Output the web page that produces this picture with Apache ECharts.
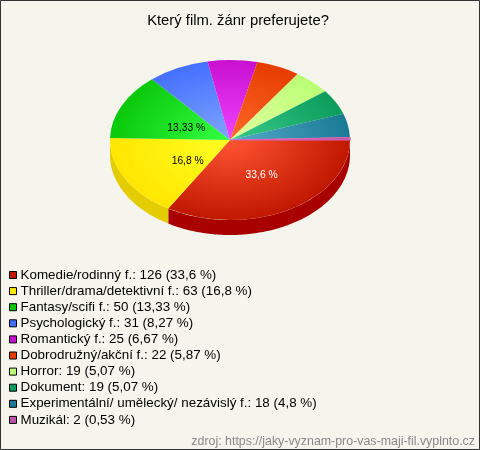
<!DOCTYPE html>
<html><head><meta charset="utf-8">
<style>html,body{margin:0;padding:0;background:#f5f5ee}#c{width:480px;height:450px}</style>
<script src="https://cdn.jsdelivr.net/npm/echarts@6/dist/echarts.min.js"></script>
</head><body><div id="c"></div>
<script>
const titleText = 'Který film. žánr preferujete?';
const sourceText = 'zdroj: https://jaky-vyznam-pro-vas-maji-fil.vyplnto.cz';
const categories = ['Komedie/rodinný f.','Thriller/drama/detektivní f.','Fantasy/scifi f.','Psychologický f.','Romantický f.','Dobrodružný/akční f.','Horror','Dokument','Experimentální/ umělecký/ nezávislý f.','Muzikál'];
const values = [126,63,50,31,25,22,19,19,18,2];
const percents = ['33,6','16,8','13,33','8,27','6,67','5,87','5,07','5,07','4,8','0,53'];
const legendColors = ['#c01800','#ffe600','#0ac80a','#4470ff','#c810d0','#e63c00','#bbff77','#0c9c5c','#1a7a94','#bb55aa'];
const innerColors = ['#ff5533','#ffff22','#33ff44','#7fa5ff','#f044ff','#ff6a2a','#e2ff9e','#38cc88','#55aacc','#ee66cc'];
const wallColors = ['#a80000','#e3cc00','#0a9a0a','#3355cc','#9a10a0','#b03000','#90cc55','#087044','#125c70','#90408a'];
const labelled = [true,true,true,false,false,false,false,false,false,false];
const labelColors = ['#ffffff','#000000','#000000'];

const total = values.reduce((a,b)=>a+b,0);
const CX=230, CY=140, RX=120, RY=80, DEPTH=15, RAD=Math.PI/180;
const starts=[]; let acc=0;
values.forEach(v=>{starts.push(acc); acc+=v/total*360;});

function renderSlice(i){
  return function(params, api){
    const a=starts[i], b=a+api.value(0)/total*360;
    const children=[];
    const wa=Math.min(a,180), wb=Math.min(b,180);
    if(wb>wa){
      const top=[],bot=[];
      for(let t=wa;;t+=1){
        const u=Math.min(t,wb);
        const x=CX+RX*Math.cos(u*RAD), y=CY+RY*Math.sin(u*RAD);
        top.push([x,y]); bot.unshift([x,y+DEPTH]);
        if(u>=wb)break;
      }
      children.push({type:'polygon',shape:{points:top.concat(bot)},style:{fill:wallColors[i]},silent:true});
    }
    const thin=api.value(0)/total<0.01;
    children.push({type:'sector',x:CX,y:CY,scaleY:RY/RX,silent:true,
      shape:{cx:0,cy:0,r:RX,r0:0,startAngle:a*RAD,endAngle:b*RAD,clockwise:true},
      style:{fill:{type:'radial',x:0,y:0,r:RX,global:true,colorStops:[{offset:0,color:innerColors[i]},{offset:1,color:legendColors[i]}]},
        stroke:thin?'#d864b8':null,lineWidth:thin?1.2:0}});
    if(labelled[i]){
      const m=(a+b)/2*RAD;
      children.push({type:'text',z2:10,silent:true,x:CX+5+.45*RX*Math.cos(m),y:CY+3.5+.45*RY*Math.sin(m),
        style:{text:percents[i]+' %',fill:labelColors[i],font:'10.3px "Liberation Sans"',align:'center',verticalAlign:'middle'}});
    }
    return {type:'group',children};
  };
}

const chart=echarts.init(document.getElementById('c'),null,{renderer:'canvas'});
chart.setOption({
  animation:false,
  backgroundColor:'#f5f5ee',
  title:{text:titleText,left:233,top:8,textAlign:'center',textStyle:{fontFamily:'Liberation Sans',fontSize:14.8,fontWeight:'normal',color:'#000'}},
  legend:{orient:'vertical',left:9,top:268.5,itemWidth:7,itemHeight:7,itemGap:3.1,icon:'rect',selectedMode:false,padding:0,
    itemStyle:{borderColor:'#000',borderWidth:1},
    textStyle:{fontFamily:'Liberation Sans',fontSize:13.4,color:'#000',padding:[0,0,0,-1],lineHeight:12}},
  graphic:[
    {type:'rect',shape:{x:.5,y:.5,width:479,height:449},style:{fill:'none',stroke:'#333',lineWidth:1},silent:true},
    {type:'text',right:5,top:436,style:{text:sourceText,fill:'#888',font:'12.4px "Liberation Sans"'},silent:true}
  ],
  series:categories.map((c,i)=>({
    type:'custom',coordinateSystem:'none',
    name:c+': '+values[i]+' ('+percents[i]+' %)',
    itemStyle:{color:legendColors[i]},
    data:[[values[i]]],
    renderItem:renderSlice(i)
  }))
});
</script></body></html>
